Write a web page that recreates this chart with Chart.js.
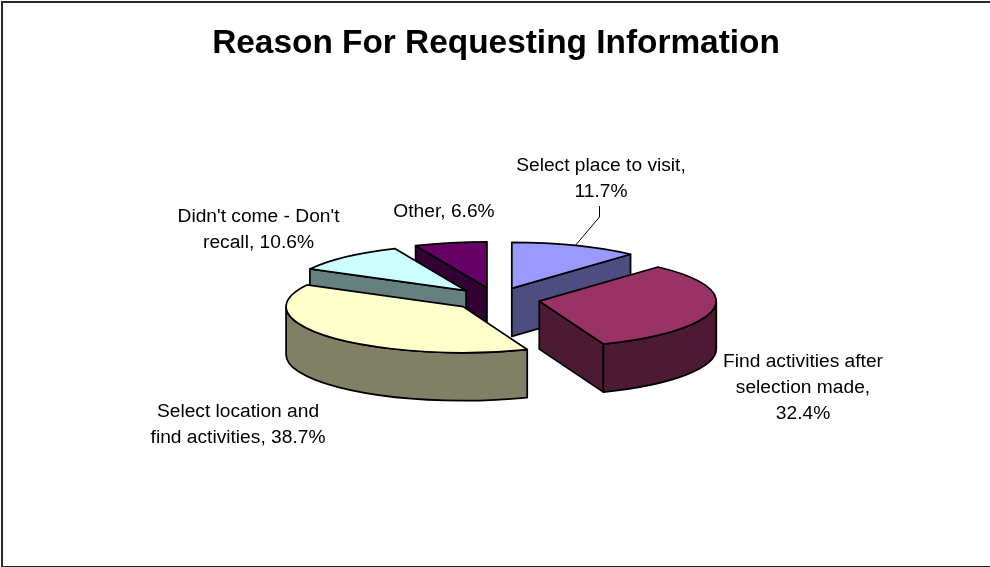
<!DOCTYPE html>
<html>
<head>
<meta charset="utf-8">
<title>Reason For Requesting Information</title>
<script src="https://cdn.jsdelivr.net/npm/chart.js@4"></script>
<style>
html,body{margin:0;padding:0;background:#fff}
#wrap{position:relative;width:990px;height:567px;overflow:hidden}
#frame{position:absolute;left:1px;top:1px;right:-4px;bottom:0;border:2px solid #2a2a2a;border-bottom-width:1px}
</style>
</head>
<body>
<div id="wrap">
  <canvas id="main-chart" width="990" height="567"></canvas>
  <div id="frame"></div>
</div>
<script>
var categories=['Select place to visit','Find activities after selection made','Select location and find activities',"Didn't come - Don't recall",'Other'];
var shares=[11.7,32.4,38.7,10.6,6.6];
var topColors=['#9999ff','#993366','#ffffcc','#ccffff','#660066'];
var sideColors=['#4d4d80','#4d1a33','#808066','#668080','#330033'];

// where each data label sits: centre x, centre y of first line, wrap width
var labelBoxes=[
  {x:601,y:166,w:180},
  {x:803,y:362,w:175},
  {x:238,y:412,w:185},
  {x:258.5,y:217,w:180},
  {x:444,y:212,w:130}
];

var TILT=0.26;     // vertical squash of the pie top
var DEPTH=48;      // height of the pie wall
var RADIUS=177;
var EXPLODE=44;    // how far each slice moves out along its bisector
var LINE_W=1.75;
var LINE_GAP=26;
var LABEL_FONT='19.2px "Liberation Sans", Arial, sans-serif';

function sliceGeom(arc){
  var p=arc.getProps(['x','y','startAngle','endAngle','outerRadius'],true);
  var mid=(p.startAngle+p.endAngle)/2;
  return {
    x:p.x,y:p.y,
    dx:Math.cos(mid)*EXPLODE,
    dy:Math.sin(mid)*EXPLODE,
    cx:p.x+Math.cos(mid)*EXPLODE,
    cy:p.y+Math.sin(mid)*EXPLODE*TILT,
    r:p.outerRadius,start:p.startAngle,end:p.endAngle,mid:mid
  };
}
function rimPoint(g,a){
  return {x:g.cx+Math.cos(a)*g.r,y:g.cy+Math.sin(a)*g.r*TILT};
}

function drawFace(ctx,g,a,color){
  var q=rimPoint(g,a);
  ctx.beginPath();
  ctx.moveTo(g.cx,g.cy);
  ctx.lineTo(q.x,q.y);
  ctx.lineTo(q.x,q.y+DEPTH);
  ctx.lineTo(g.cx,g.cy+DEPTH);
  ctx.closePath();
  ctx.fillStyle=color;
  ctx.fill();
  ctx.stroke();
}

function drawWalls(ctx,g,color){
  // cut faces only show when they turn towards the viewer
  if(Math.cos(g.start)<-1e-6)drawFace(ctx,g,g.start,color);
  if(Math.cos(g.end)>1e-6)drawFace(ctx,g,g.end,color);
  // outer wall, front half of the ellipse only
  var a0=Math.max(g.start,0),a1=Math.min(g.end,Math.PI);
  if(a1>a0){
    ctx.beginPath();
    ctx.ellipse(g.cx,g.cy,g.r,g.r*TILT,0,a0,a1);
    ctx.ellipse(g.cx,g.cy+DEPTH,g.r,g.r*TILT,0,a1,a0,true);
    ctx.closePath();
    ctx.fillStyle=color;
    ctx.fill();
    ctx.stroke();
  }
}

function wrapLabel(ctx,text,width){
  var lines=[],cur='';
  text.split(' ').forEach(function(word){
    var t=cur?cur+' '+word:word;
    if(cur&&ctx.measureText(t).width>width){lines.push(cur);cur=word}
    else cur=t;
  });
  lines.push(cur);
  return lines;
}

/* Tilted 3D look: each slice is wall, squashed library arc, then outline */
var pie3d={
  id:'pie3d',
  beforeDatasetDraw:function(chart){
    var ctx=chart.ctx,arcs=chart.getDatasetMeta(0).data;
    // back to front so nearer slices cover farther ones
    var order=arcs.map(function(a,i){return i}).sort(function(i,j){
      return Math.sin(sliceGeom(arcs[i]).mid)-Math.sin(sliceGeom(arcs[j]).mid);
    });
    ctx.save();
    ctx.strokeStyle='#000';
    ctx.lineWidth=LINE_W;
    ctx.lineJoin='round';
    order.forEach(function(i){
      var g=sliceGeom(arcs[i]);
      drawWalls(ctx,g,sideColors[i]);

      ctx.save();
      ctx.translate(g.x,g.y);
      ctx.scale(1,TILT);
      ctx.translate(g.dx-g.x,g.dy-g.y);
      arcs[i].draw(ctx);
      ctx.restore();

      ctx.beginPath();
      ctx.moveTo(g.cx,g.cy);
      ctx.ellipse(g.cx,g.cy,g.r,g.r*TILT,0,g.start,g.end);
      ctx.closePath();
      ctx.stroke();
    });
    ctx.restore();
    return false;
  },
  afterDatasetsDraw:function(chart){
    var ctx=chart.ctx,first=sliceGeom(chart.getDatasetMeta(0).data[0]);
    ctx.save();
    // leader from the first label to its slice
    var tip=rimPoint(first,first.mid);
    ctx.strokeStyle='#000';
    ctx.lineWidth=1;
    ctx.beginPath();
    ctx.moveTo(599.5,206);
    ctx.lineTo(599.5,217);
    ctx.lineTo(tip.x,tip.y);
    ctx.stroke();

    ctx.fillStyle='#000';
    ctx.font=LABEL_FONT;
    ctx.textAlign='center';
    ctx.textBaseline='middle';
    categories.forEach(function(name,i){
      var box=labelBoxes[i];
      var lines=wrapLabel(ctx,name+', '+shares[i].toFixed(1)+'%',box.w);
      lines.forEach(function(line,n){ctx.fillText(line,box.x,box.y+n*LINE_GAP)});
    });
    ctx.restore();
  }
};

var ctx=document.getElementById('main-chart').getContext('2d');
var mainChart=new Chart(ctx,{
  type:'pie',
  data:{
    labels:categories,
    datasets:[{data:shares,backgroundColor:topColors,borderWidth:0}]
  },
  options:{
    responsive:false,
    animation:false,
    radius:RADIUS,
    layout:{padding:{left:2,bottom:33}},
    plugins:{
      legend:{display:false},
      tooltip:{enabled:false},
      title:{
        display:true,
        text:'Reason For Requesting Information',
        color:'#000',
        font:{family:'"Liberation Sans", Arial, sans-serif',size:33.4,weight:'bold'},
        padding:{top:24,bottom:0}
      }
    }
  },
  plugins:[pie3d]
});
</script>
</body>
</html>
